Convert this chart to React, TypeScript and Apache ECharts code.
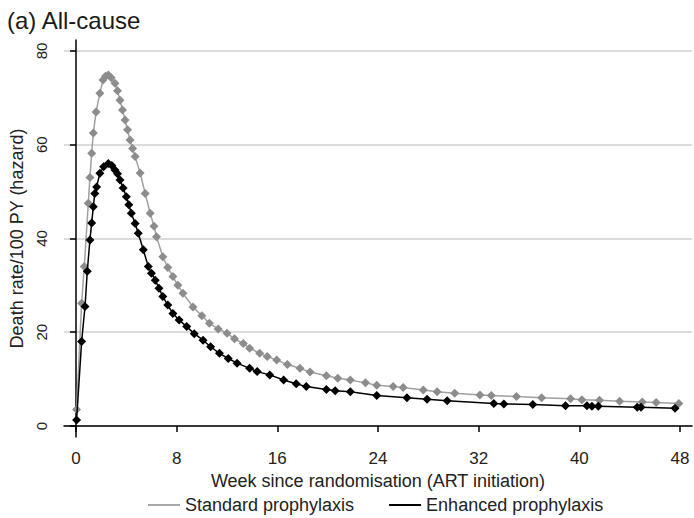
import React, { useEffect, useRef } from "react";
import * as echarts from "echarts";

const xTicks = [0, 8, 16, 24, 32, 40, 48];
const yTicks = [0, 20, 40, 60, 80];

const stdWeeks = [0.05, 0.45, 0.66, 0.98, 1.11, 1.25, 1.38, 1.6, 1.9, 2.15, 2.35, 2.57, 2.8, 3.1, 3.3, 3.5, 3.7, 3.9, 4.1, 4.3, 4.5, 4.7, 5.1, 5.5, 5.9, 6.2, 6.4, 6.9, 7.3, 7.7, 8.1, 8.5, 9.3, 10.0, 10.6, 11.3, 12.0, 12.6, 13.3, 13.8, 14.6, 15.2, 15.95, 16.8, 17.8, 18.6, 19.9, 20.8, 21.8, 23.0, 23.9, 25.2, 26.0, 27.6, 28.7, 30.1, 32.1, 33.0, 35.0, 37.0, 39.3, 40.2, 41.6, 43.2, 45.0, 46.1, 47.9];
const stdRate = [3.5, 26.2, 34, 47.5, 53, 58.2, 62.5, 67, 71, 73.8, 74.6, 74.9, 74.3, 73.1, 71.5, 69.5, 67.4, 65.3, 63.2, 61, 59.2, 57.5, 54, 49.6, 45.4, 42.6, 40.4, 36.1, 33.8, 31.9, 30.0, 28.3, 25.4, 23.5, 21.9, 20.7, 19.8, 18.6, 17.6, 16.6, 15.5, 14.8, 14.1, 13.1, 12.3, 11.5, 10.7, 10.2, 9.8, 9.2, 8.7, 8.4, 8.2, 7.7, 7.3, 7.0, 6.6, 6.5, 6.3, 6.0, 5.8, 5.6, 5.5, 5.3, 5.1, 5.0, 4.8];

const enhWeeks = [0.05, 0.45, 0.72, 0.9, 1.11, 1.25, 1.38, 1.5, 1.64, 1.9, 2.2, 2.57, 2.85, 3.1, 3.3, 3.5, 3.75, 4.0, 4.2, 4.4, 4.7, 4.95, 5.35, 5.75, 6.0, 6.3, 6.6, 6.9, 7.3, 7.7, 8.2, 8.8, 9.4, 10.1, 10.7, 11.4, 12.1, 12.8, 13.8, 14.4, 15.4, 16.5, 17.5, 18.3, 19.9, 20.6, 21.8, 23.9, 26.3, 27.9, 29.5, 33.2, 34.0, 36.3, 38.9, 40.6, 41.0, 41.5, 44.6, 44.9, 47.6];
const enhRate = [1.3, 18, 25.5, 33, 39.7, 43.3, 46.8, 49.6, 51, 53.9, 55.3, 56.0, 55.6, 54.6, 53.8, 52.5, 50.8, 48.9, 47.2, 45.4, 43.2, 41.1, 37.6, 34, 32.6, 31.1, 29.4, 27.6, 25.8, 24, 22.6, 21.2, 19.7, 18.3, 16.9, 15.5, 14.4, 13.4, 12.3, 11.6, 10.9, 9.8, 9.0, 8.4, 7.8, 7.5, 7.3, 6.5, 6.0, 5.7, 5.4, 4.8, 4.7, 4.6, 4.3, 4.3, 4.2, 4.2, 4.0, 4.0, 3.8];

const FONT = "'Liberation Sans', Arial, sans-serif";

export default function App() {
  const ref = useRef<HTMLDivElement>(null);
  useEffect(() => {
    if (!ref.current) return;
    const chart = echarts.init(ref.current, null, { renderer: "svg" });
    chart.setOption({
      animation: false,
      backgroundColor: "#ffffff",
      textStyle: { fontFamily: FONT },
      title: {
        text: "(a) All-cause",
        left: 2,
        top: 3,
        textStyle: { fontSize: 24, fontWeight: "normal", color: "#1a1a1a", fontFamily: FONT },
      },
      legend: {
        left: 148,
        top: 496,
        padding: 0,
        itemWidth: 32,
        itemHeight: 2,
        itemGap: 35,
        textStyle: { fontSize: 18, color: "#222", fontFamily: FONT },
        data: [
          { name: "Standard prophylaxis", icon: "rect", itemStyle: { color: "#a8a8a8" } },
          { name: "Enhanced prophylaxis", icon: "rect", itemStyle: { color: "#000000" } },
        ],
      },
      grid: { left: 64, right: 2, top: 40, bottom: 81 },
      xAxis: {
        type: "value",
        min: -0.95,
        max: 48.95,
        name: "Week since randomisation (ART initiation)",
        nameLocation: "middle",
        nameGap: 28,
        nameTextStyle: { fontSize: 18, color: "#222", fontFamily: FONT },
        axisLine: { show: true, lineStyle: { color: "#000", width: 1.5 } },
        axisTick: { show: true, length: 6, customValues: xTicks, lineStyle: { color: "#000", width: 1.5 } },
        axisLabel: { customValues: xTicks, fontSize: 17, color: "#222", margin: 13, fontFamily: FONT },
        splitLine: { show: false },
      },
      yAxis: {
        type: "value",
        min: -2.35,
        max: 82.35,
        name: "Death rate/100 PY (hazard)",
        nameLocation: "middle",
        nameGap: 33,
        nameTextStyle: { fontSize: 18, color: "#222", fontFamily: FONT },
        axisLine: { show: true, lineStyle: { color: "#000", width: 1.5 } },
        axisTick: { show: true, length: 6, customValues: yTicks, lineStyle: { color: "#000", width: 1.5 } },
        axisLabel: { customValues: yTicks, rotate: 90, fontSize: 15, color: "#222", margin: 15, fontFamily: FONT },
        splitLine: { show: true, lineStyle: { color: "#d0d0d0", width: 1.5 } },
      },
      series: [
        {
          name: "Standard prophylaxis",
          type: "line",
          data: stdWeeks.map((w, i) => [w, stdRate[i]]),
          symbol: "diamond",
          symbolSize: 9,
          itemStyle: { color: "#8c8c8c" },
          lineStyle: { color: "#a0a0a0", width: 1.5 },
          z: 2,
        },
        {
          name: "Enhanced prophylaxis",
          type: "line",
          data: enhWeeks.map((w, i) => [w, enhRate[i]]),
          symbol: "diamond",
          symbolSize: 9,
          itemStyle: { color: "#000000" },
          lineStyle: { color: "#000000", width: 1.5 },
          z: 3,
        },
      ],
    });
    return () => chart.dispose();
  }, []);
  return (
    <div
      ref={ref}
      style={{ position: "fixed", left: 0, top: 0, width: 694, height: 518, background: "#fff" }}
    />
  );
}
